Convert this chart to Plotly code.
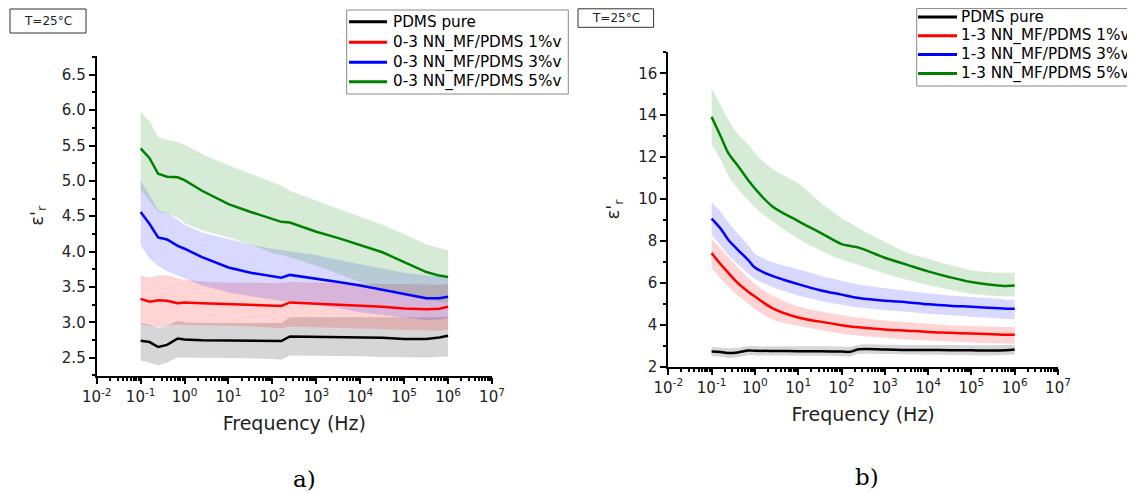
import plotly.graph_objects as go

# ---------------- data ----------------
FREQ = [0.1, 0.16, 0.25, 0.4, 0.7, 1, 2.5, 10, 32, 100, 160, 250,
        1e3, 3.2e3, 1e4, 3.2e4, 1e5, 3.2e5, 6.3e5, 1e6]

NAMES_A = ["PDMS pure", "0-3 NN_MF/PDMS 1%v", "0-3 NN_MF/PDMS 3%v", "0-3 NN_MF/PDMS 5%v"]
NAMES_B = ["PDMS pure", "1-3 NN_MF/PDMS 1%v", "1-3 NN_MF/PDMS 3%v", "1-3 NN_MF/PDMS 5%v"]
COLORS = ["#000000", "#ff0000", "#0000ff", "#008000"]
BANDS = ["rgba(0,0,0,0.16)", "rgba(255,0,0,0.17)", "rgba(0,0,255,0.15)", "rgba(0,128,0,0.16)"]

# panel a) 0-3 composites: mean, upper, lower
A_PURE = [2.74, 2.72, 2.65, 2.68, 2.77, 2.755, 2.745, 2.74, 2.74, 2.74, 2.735, 2.80,
          2.795, 2.79, 2.785, 2.78, 2.765, 2.765, 2.785, 2.81]
A_PURE_UP = [2.99, 2.97, 2.92, 2.95, 3.02, 3.0, 2.99, 2.99, 2.99, 2.99, 2.99, 3.07,
             3.07, 3.07, 3.07, 3.07, 3.06, 3.06, 3.07, 3.08]
A_PURE_LO = [2.46, 2.43, 2.39, 2.43, 2.5, 2.5, 2.49, 2.49, 2.49, 2.48, 2.47, 2.53,
             2.53, 2.52, 2.52, 2.51, 2.50, 2.50, 2.51, 2.52]

A_1 = [3.33, 3.29, 3.31, 3.305, 3.27, 3.28, 3.27, 3.26, 3.25, 3.24, 3.23, 3.28,
       3.265, 3.25, 3.235, 3.22, 3.195, 3.185, 3.19, 3.22]
A_1_UP = [3.66, 3.63, 3.66, 3.66, 3.62, 3.60, 3.58, 3.56, 3.56, 3.55, 3.55, 3.57,
          3.56, 3.55, 3.54, 3.54, 3.54, 3.53, 3.53, 3.54]
A_1_LO = [2.97, 2.95, 2.93, 2.95, 2.97, 2.96, 2.96, 2.95, 2.94, 2.93, 2.92, 2.94,
          2.93, 2.92, 2.91, 2.90, 2.89, 2.88, 2.88, 2.89]

A_3 = [4.56, 4.39, 4.20, 4.17, 4.08, 4.04, 3.92, 3.775, 3.70, 3.645, 3.63, 3.67,
       3.62, 3.57, 3.52, 3.46, 3.41, 3.34, 3.34, 3.36]
A_3_UP = [5.0, 4.80, 4.58, 4.55, 4.45, 4.38, 4.27, 4.18, 4.10, 4.04, 4.02, 4.00,
          3.95, 3.88, 3.82, 3.75, 3.70, 3.66, 3.65, 3.65]
A_3_LO = [4.09, 3.90, 3.80, 3.72, 3.66, 3.62, 3.52, 3.42, 3.37, 3.32, 3.30, 3.30,
          3.25, 3.20, 3.14, 3.10, 3.06, 3.03, 3.04, 3.06]

A_5 = [5.46, 5.32, 5.10, 5.058, 5.05, 5.01, 4.86, 4.67, 4.56, 4.46, 4.42, 4.41,
       4.28, 4.19, 4.09, 3.99, 3.85, 3.71, 3.66, 3.64]
A_5_UP = [5.98, 5.84, 5.62, 5.58, 5.55, 5.51, 5.38, 5.22, 5.10, 4.98, 4.93, 4.86,
          4.72, 4.60, 4.49, 4.38, 4.25, 4.10, 4.05, 4.02]
A_5_LO = [4.87, 4.72, 4.56, 4.54, 4.48, 4.40, 4.30, 4.20, 4.10, 3.98, 3.95, 3.92,
          3.80, 3.68, 3.57, 3.47, 3.38, 3.31, 3.29, 3.28]

# panel b) 1-3 composites: mean, upper, lower
B_PURE = [2.72, 2.70, 2.65, 2.68, 2.77, 2.76, 2.75, 2.74, 2.74, 2.72, 2.71, 2.83,
          2.82, 2.80, 2.80, 2.79, 2.78, 2.77, 2.79, 2.82]
B_PURE_UP = [2.94, 2.92, 2.88, 2.90, 2.98, 2.97, 2.97, 2.97, 2.97, 2.96, 2.95, 3.05,
             3.05, 3.04, 3.04, 3.03, 3.02, 3.02, 3.03, 3.05]
B_PURE_LO = [2.50, 2.48, 2.42, 2.45, 2.55, 2.54, 2.53, 2.52, 2.52, 2.50, 2.49, 2.60,
             2.60, 2.58, 2.57, 2.56, 2.55, 2.54, 2.56, 2.58]

B_1 = [7.42, 6.90, 6.45, 6.00, 5.58, 5.35, 4.80, 4.35, 4.15, 3.98, 3.92, 3.88,
       3.78, 3.72, 3.66, 3.62, 3.58, 3.55, 3.53, 3.53]
B_1_UP = [8.10, 7.65, 7.20, 6.75, 6.25, 5.95, 5.40, 4.87, 4.65, 4.47, 4.40, 4.35,
          4.20, 4.12, 4.05, 3.98, 3.94, 3.91, 3.90, 3.90]
B_1_LO = [6.73, 6.20, 5.80, 5.40, 5.00, 4.75, 4.25, 3.95, 3.75, 3.58, 3.52, 3.48,
          3.38, 3.30, 3.25, 3.20, 3.16, 3.12, 3.10, 3.10]

B_3 = [9.07, 8.60, 8.02, 7.59, 7.09, 6.73, 6.33, 5.94, 5.65, 5.44, 5.35, 5.28,
       5.15, 5.08, 4.98, 4.91, 4.86, 4.80, 4.77, 4.76]
B_3_UP = [9.87, 9.40, 8.85, 8.35, 7.80, 7.40, 7.00, 6.65, 6.35, 6.10, 6.00, 5.92,
          5.75, 5.62, 5.50, 5.40, 5.33, 5.25, 5.20, 5.19]
B_3_LO = [8.30, 7.80, 7.30, 6.90, 6.45, 6.20, 5.80, 5.40, 5.15, 4.95, 4.88, 4.82,
          4.70, 4.62, 4.53, 4.45, 4.38, 4.32, 4.28, 4.27]

B_5 = [13.92, 13.02, 12.15, 11.60, 10.90, 10.50, 9.66, 8.95, 8.40, 7.85, 7.76, 7.68,
       7.20, 6.87, 6.55, 6.27, 6.04, 5.90, 5.85, 5.87]
B_5_UP = [15.31, 14.50, 13.75, 13.10, 12.60, 12.20, 11.45, 10.75, 9.85, 9.10, 8.85, 8.60,
          7.95, 7.45, 7.15, 6.85, 6.60, 6.50, 6.48, 6.48]
B_5_LO = [12.59, 11.90, 11.07, 10.50, 9.95, 9.60, 8.95, 8.10, 7.55, 7.10, 6.98, 6.85,
          6.45, 6.15, 5.90, 5.67, 5.48, 5.38, 5.35, 5.35]

X_TICKVALS = [1e-2, 1e-1, 1e0, 1e1, 1e2, 1e3, 1e4, 1e5, 1e6, 1e7]
X_TICKTEXT = ["10<sup>-2</sup>", "10<sup>-1</sup>", "10<sup>0</sup>", "10<sup>1</sup>",
              "10<sup>2</sup>", "10<sup>3</sup>", "10<sup>4</sup>", "10<sup>5</sup>",
              "10<sup>6</sup>", "10<sup>7</sup>"]
X_TITLE = "Frequency (Hz)"
Y_TITLE = "ε'<sub>r</sub>"
TEMP_LABEL = "T=25°C"
CAPTIONS = ["a)", "b)"]

PANEL_A = [(A_PURE, A_PURE_UP, A_PURE_LO), (A_1, A_1_UP, A_1_LO),
           (A_3, A_3_UP, A_3_LO), (A_5, A_5_UP, A_5_LO)]
PANEL_B = [(B_PURE, B_PURE_UP, B_PURE_LO), (B_1, B_1_UP, B_1_LO),
           (B_3, B_3_UP, B_3_LO), (B_5, B_5_UP, B_5_LO)]

# ---------------- layout helpers ----------------
W, H = 1135, 493
OFF = 8  # page body margin of the html document
FONT = "DejaVu Sans"


def px(x):
    return (x - OFF) / W


def py(y):
    return 1 - (y - OFF) / H


fig = go.Figure()


def add_panel(panel, names, xa, ya, shape):
    for (mean, up, lo), col, band in zip(panel, COLORS, BANDS):
        fig.add_trace(go.Scatter(x=FREQ, y=up, mode="lines", line=dict(width=0, color=band, shape=shape),
                                 xaxis=xa, yaxis=ya, showlegend=False, hoverinfo="skip"))
        fig.add_trace(go.Scatter(x=FREQ, y=lo, mode="lines", line=dict(width=0, color=band, shape=shape),
                                 fill="tonexty", fillcolor=band,
                                 xaxis=xa, yaxis=ya, showlegend=False, hoverinfo="skip"))
    for (mean, up, lo), col, name in zip(panel, COLORS, names):
        fig.add_trace(go.Scatter(x=FREQ, y=mean, mode="lines", name=name,
                                 line=dict(color=col, width=2.5, shape=shape),
                                 xaxis=xa, yaxis=ya, showlegend=False))


add_panel(PANEL_A, NAMES_A, "x", "y", "linear")
add_panel(PANEL_B, NAMES_B, "x2", "y2", "spline")

minor_x = [k * 10 ** e for e in range(-2, 7) for k in range(2, 10)]

common_x = dict(type="log", tickmode="array", tickvals=X_TICKVALS, ticktext=X_TICKTEXT,
                ticks="outside", ticklen=6, tickwidth=2, tickcolor="black",
                showline=True, linecolor="black", linewidth=2, showgrid=False, zeroline=False,
                tickfont=dict(family=FONT, size=15, color="#222"),
                minor=dict(tickmode="array", tickvals=minor_x, ticks="outside", ticklen=3,
                           tickwidth=1.5, tickcolor="black", showgrid=False),
                title=dict(text=X_TITLE, font=dict(family=FONT, size=19, color="#222"), standoff=12))
common_y = dict(ticks="outside", ticklen=6, tickwidth=2, tickcolor="black",
                showline=True, linecolor="black", linewidth=2, showgrid=False, zeroline=False,
                tickfont=dict(family=FONT, size=15, color="#222"),
                title=dict(text=Y_TITLE, font=dict(family=FONT, size=18, color="#222"), standoff=14))

fig.update_layout(
    width=W, height=H, margin=dict(l=0, r=0, t=0, b=0, autoexpand=False),
    paper_bgcolor="white", plot_bgcolor="white", showlegend=False,
    xaxis=dict(common_x, domain=[px(96.7), px(492)], range=[-2, 7], anchor="y"),
    yaxis=dict(common_y, domain=[py(376), py(55.7)], range=[2.24, 6.77], anchor="x",
               tickmode="linear", tick0=2.5, dtick=0.5, tickformat=".1f",
               minor=dict(dtick=0.25, tick0=2.5, ticks="outside", ticklen=3, tickwidth=1.5,
                          tickcolor="black", showgrid=False)),
    xaxis2=dict(common_x, domain=[px(668.3), px(1058)], range=[-2, 7], anchor="y2"),
    yaxis2=dict(common_y, domain=[py(366.7), py(52.3)], range=[2, 17], anchor="x2",
                tickmode="linear", tick0=2, dtick=2,
                minor=dict(dtick=1, tick0=2, ticks="outside", ticklen=3, tickwidth=1.5,
                           tickcolor="black", showgrid=False)),
)

shapes = []
annotations = []

# temperature boxes
for (x0, x1, y0, y1) in [(10, 86, 9, 33), (578, 653.6, 8.8, 27.3)]:
    shapes.append(dict(type="rect", xref="paper", yref="paper", x0=px(x0), x1=px(x1), y0=py(y1), y1=py(y0),
                       line=dict(color="#333", width=1), fillcolor="white"))
    annotations.append(dict(text=TEMP_LABEL, xref="paper", yref="paper", x=px((x0 + x1) / 2), y=py((y0 + y1) / 2),
                            showarrow=False, xanchor="center", yanchor="middle",
                            font=dict(family=FONT, size=12, color="#222")))

# manual legends
legends = [
    dict(names=NAMES_A, box=(346.7, 568.3, 10, 94), rows=[21.7, 42.3, 62.3, 81.7], lx=(349, 387), tx=390.5),
    dict(names=NAMES_B, box=(916.7, 1150, 8.6, 86), rows=[17.0, 35.8, 54.6, 73.4], lx=(918, 957), tx=959),
]
for lg in legends:
    x0, x1, y0, y1 = lg["box"]
    shapes.append(dict(type="rect", xref="paper", yref="paper", x0=px(x0), x1=px(x1), y0=py(y1), y1=py(y0),
                       line=dict(color="#888", width=1), fillcolor="white", layer="above"))
    for name, col, ry in zip(lg["names"], COLORS, lg["rows"]):
        shapes.append(dict(type="line", xref="paper", yref="paper", x0=px(lg["lx"][0]), x1=px(lg["lx"][1]),
                           y0=py(ry), y1=py(ry), line=dict(color=col, width=3), layer="above"))
        annotations.append(dict(text=name, xref="paper", yref="paper", x=px(lg["tx"]), y=py(ry),
                                showarrow=False, xanchor="left", yanchor="middle",
                                font=dict(family=FONT, size=15.2, color="black")))

# captions
for cap, (cx, cy) in zip(CAPTIONS, [(304, 479), (866.5, 477)]):
    annotations.append(dict(text=cap, xref="paper", yref="paper", x=px(cx), y=py(cy), showarrow=False,
                            xanchor="center", yanchor="middle",
                            font=dict(family="DejaVu Serif", size=23, color="black")))

fig.update_layout(shapes=shapes, annotations=annotations)
fig.write_html("out.html")
